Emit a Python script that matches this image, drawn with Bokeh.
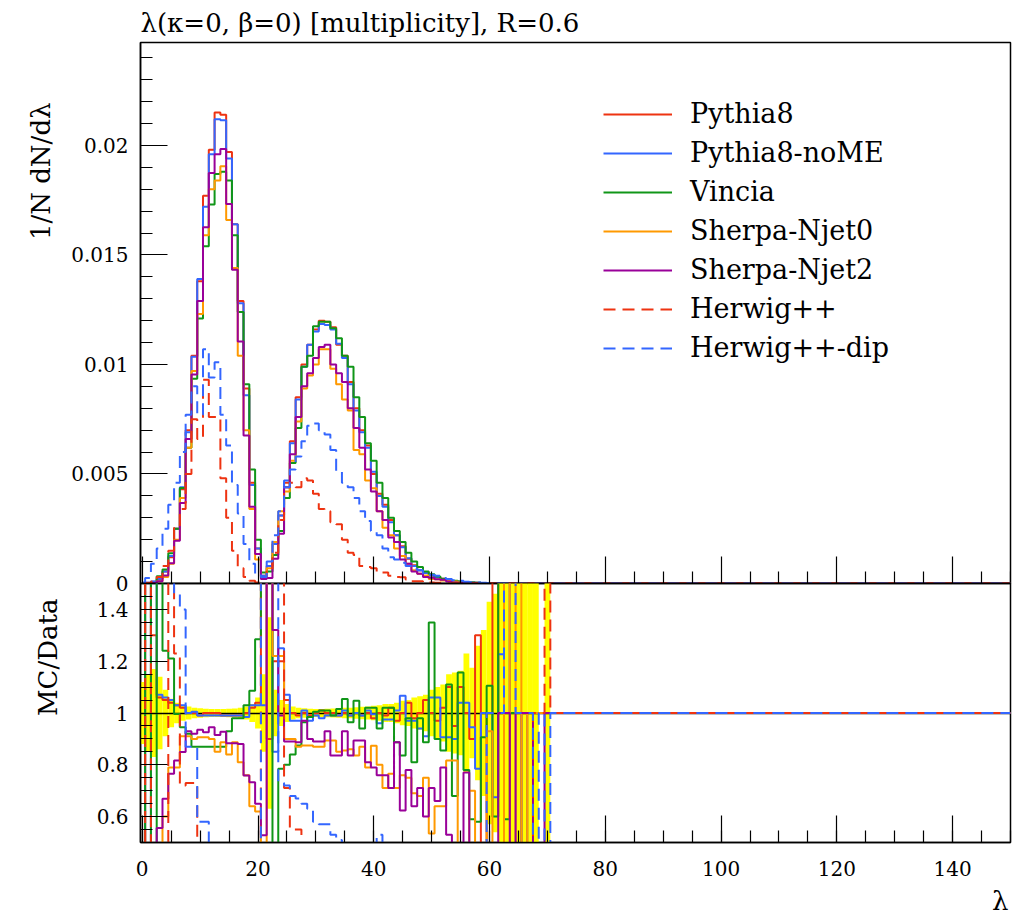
import numpy as np
from bokeh.plotting import figure
from bokeh.layouts import column
from bokeh.models import (Range1d, FixedTicker, SingleIntervalTicker, Legend,
                          LegendItem, Title, LinearAxis)
from bokeh.embed import file_html
from bokeh.resources import INLINE

# ---------------------------------------------------------------------------
# Jet multiplicity lambda(kappa=0, beta=0), R=0.6 -- unit-width bins 0..70
# Main panel values are in units of 1e-3 (1/N dN/dlambda)
# ---------------------------------------------------------------------------
pythia8 = [0.0, 0.03, 0.08, 0.2, 0.55, 1.2, 2.5, 4.3, 7.0, 10.4, 13.8, 17.7, 19.8, 21.5, 21.4,
           19.7, 16.4, 12.9, 8.9, 4.6, 1.6, 0.35, 0.8, 1.8, 3.1, 4.6, 6.5, 8.5, 10.0, 10.9,
           11.6, 12.0, 11.95, 11.7, 10.9, 10.4, 9.2, 8.0, 7.0, 6.3, 5.0, 4.1, 3.6, 2.9, 2.2,
           1.7, 1.13, 0.83, 0.6, 0.5, 0.37, 0.3, 0.22, 0.17, 0.11, 0.08, 0.06, 0.04, 0.03, 0.02,
           0.015, 0.01, 0.008, 0.006, 0.004, 0.003, 0.002, 0.0015, 0.001, 0.0005, 0.0003]
pythia8_nome = [0.0, 0.03, 0.09, 0.22, 0.55, 1.25, 2.5, 4.4, 6.9, 10.35, 13.9, 17.2, 19.6, 21.2, 21.15,
                19.4, 16.4, 12.8, 8.6, 4.5, 1.6, 0.35, 0.8, 1.8, 3.1, 4.7, 6.4, 8.4, 9.9, 10.9,
                11.5, 11.85, 11.8, 11.6, 10.95, 10.3, 9.1, 7.9, 6.9, 6.2, 5.1, 4.0, 3.5, 2.8, 2.2,
                1.65, 1.15, 0.8, 0.6, 0.48, 0.36, 0.28, 0.21, 0.16, 0.11, 0.08, 0.055, 0.04, 0.03, 0.02,
                0.015, 0.01, 0.008, 0.006, 0.004, 0.003, 0.002, 0.0015, 0.001, 0.0005, 0.0003]
vincia = [0.0, 0.0, 0.02, 0.33, 0.64, 1.38, 2.5, 4.36, 6.2, 9.35, 12.1, 15.4, 17.3, 18.7, 18.8,
          18.4, 15.9, 12.4, 9.1, 5.2, 2.0, 0.5, 0.55, 1.3, 2.4, 3.9, 5.5, 7.1, 9.9, 10.4,
          11.75, 11.95, 11.95, 11.65, 11.2, 10.4, 9.9, 8.5, 7.6, 6.4, 5.6, 4.6, 3.9, 3.0, 2.4,
          1.9, 1.4, 1.0, 0.75, 0.55, 0.42, 0.32, 0.22, 0.17, 0.12, 0.09, 0.06, 0.045, 0.03, 0.02,
          0.015, 0.01, 0.008, 0.006, 0.004, 0.003, 0.002, 0.0015, 0.001, 0.0005, 0.0003]
sherpa_njet0 = [0.0, 0.0, 0.02, 0.1, 0.3, 0.9, 2.0, 3.9, 6.2, 9.7, 12.3, 15.9, 18.0, 18.4, 19.05,
                16.6, 14.4, 10.4, 7.0, 3.4, 1.1, 0.25, 0.7, 1.9, 3.3, 4.2, 5.6, 7.4, 8.9, 9.5,
                10.0, 10.7, 10.7, 9.8, 9.1, 8.4, 7.9, 6.1, 5.9, 4.7, 4.35, 3.3, 2.55, 2.2, 1.6,
                1.25, 0.9, 0.6, 0.45, 0.36, 0.2, 0.19, 0.14, 0.14, 0.09, 0.04, 0.03, 0.028, 0.01, 0.008,
                0.01, 0.005, 0.004, 0.003, 0.002, 0.002, 0.001, 0.001, 0.0005, 0.0003, 0.0002]
sherpa_njet2 = [0.0, 0.0, 0.02, 0.1, 0.37, 0.93, 1.95, 3.68, 6.6, 9.54, 12.9, 16.26, 18.74, 19.6, 19.84,
                17.33, 14.32, 11.05, 6.76, 3.5, 1.35, 0.2, 0.25, 1.13, 2.27, 4.4, 5.9, 7.6, 9.0, 9.6,
                10.3, 10.8, 10.9, 10.0, 9.6, 9.2, 8.0, 7.1, 6.2, 5.2, 4.2, 3.3, 2.9, 2.1, 1.9,
                1.1, 0.9, 0.55, 0.45, 0.3, 0.26, 0.19, 0.17, 0.09, 0.04, 0.03, 0.04, 0.01, 0.01, 0.008,
                0.005, 0.004, 0.003, 0.002, 0.002, 0.001, 0.001, 0.0005, 0.0003, 0.0002, 0.0001]
herwig = [0.0, 0.02, 0.08, 0.3, 0.8, 1.5, 2.6, 3.4, 5.0, 7.5, 6.6, 9.3, 7.6, 7.6, 4.8,
          3.0, 1.5, 0.7, 0.3, 0.12, 0.05, 0.3, 0.55, 1.4, 2.9, 4.4, 4.6, 4.4, 4.8, 4.7,
          4.1, 3.4, 3.3, 2.8, 2.7, 2.0, 1.4, 1.3, 0.8, 0.75, 0.7, 0.52, 0.5, 0.35, 0.3,
          0.28, 0.18, 0.1, 0.1, 0.06, 0.04, 0.03, 0.02, 0.01, 0.008, 0.006, 0.004, 0.003, 0.002, 0.001,
          0.001, 0.0008, 0.0005, 0.0004, 0.0003, 0.0002, 0.0002, 0.0001, 0.0001, 0.0001, 0.0001]
herwig_dip = [0.05, 0.25, 0.9, 1.6, 2.5, 3.6, 4.6, 6.0, 7.7, 9.0, 7.7, 10.7, 9.4, 10.1, 7.7,
              6.3, 4.5, 3.2, 1.8, 0.9, 0.4, 0.3, 1.0, 2.2, 3.3, 4.4, 5.2, 5.8, 6.5, 7.2,
              7.3, 7.0, 6.8, 6.1, 5.1, 4.6, 4.4, 3.9, 3.3, 2.85, 2.4, 2.2, 1.6, 1.2, 1.1,
              0.95, 0.8, 0.65, 0.6, 0.45, 0.4, 0.35, 0.25, 0.2, 0.15, 0.12, 0.08, 0.06, 0.04, 0.03,
              0.02, 0.015, 0.01, 0.008, 0.006, 0.004, 0.003, 0.002, 0.001, 0.0008, 0.0005]

# MC/Data ratios per bin (0..70); bins above 70 have ratio 1
ratio_pythia8 = [0.0, 3.0, 1.3, 1.06, 1.05, 1.04, 1.03, 1.02, 1.0, 1.0, 0.99, 1.0, 1.0, 1.0, 0.99,
                 0.99, 0.99, 0.99, 1.0, 1.02, 1.04, 3.0, 0.9, 1.2, 1.2, 1.05, 1.0, 0.99, 1.0, 0.99,
                 1.0, 1.01, 1.0, 1.0, 0.99, 1.0, 0.99, 1.0, 0.99, 1.0, 0.98, 1.0, 0.99, 1.02, 0.97,
                 1.0, 1.04, 0.98, 1.0, 1.05, 1.0, 0.97, 1.02, 1.1, 0.95, 1.1, 1.0, 0.9, 1.3, 0.0,
                 1.0, 3.0, 1.0, 3.0, 1.0, 1.0, 0.0, 1.0, 1.0, 1.0, 1.0]
ratio_pythia8_nome = [3.0, 0.0, 3.0, 1.07, 1.06, 1.05, 1.03, 1.03, 1.0, 1.005, 0.99, 0.99, 0.99, 0.99, 0.99,
                      0.99, 0.99, 0.99, 0.985, 1.03, 1.03, 1.03, 3.0, 0.85, 1.25, 1.07, 0.97, 0.97, 1.01, 0.97,
                      0.99, 0.98, 0.99, 0.99, 0.99, 1.01, 0.99, 1.0, 0.99, 1.01, 0.995, 0.96, 0.975, 0.975, 1.01,
                      1.067, 0.97, 0.97, 0.94, 0.91, 1.06, 1.06, 0.906, 0.906, 0.9, 1.04, 1.04, 0.945, 0.785, 1.0,
                      1.0, 0.675, 1.227, 3.0, 1.0, 1.0, 0.0, 1.0, 1.0, 1.0, 1.0]
ratio_vincia = [0.0, 3.0, 0.0, 3.0, 1.24, 1.21, 0.996, 0.945, 0.92, 0.87, 0.87, 0.87, 0.87, 0.87, 0.87,
                0.93, 0.98, 0.98, 1.03, 1.086, 1.285, 3.0, 3.0, 0.42, 0.785, 0.8, 0.84, 0.875, 0.964, 0.985,
                1.005, 1.01, 1.01, 0.99, 1.015, 1.054, 0.964, 1.047, 0.94, 1.02, 1.02, 0.94, 1.02, 1.02, 0.887,
                0.836, 0.98, 0.81, 0.98, 0.887, 1.349, 0.9, 0.855, 1.11, 0.68, 1.156, 0.78, 0.59, 0.58, 0.906,
                1.105, 0.6, 3.0, 0.59, 1.0, 1.0, 1.0, 1.0, 1.0, 1.0, 1.0]
ratio_sherpa_njet0 = [0.0, 0.0, 0.0, 0.0, 0.6, 0.79, 0.79, 0.91, 0.91, 0.9, 0.906, 0.906, 0.9, 0.85, 0.887,
                      0.84, 0.887, 0.81, 0.76, 0.64, 0.62, 0.3, 3.0, 1.22, 1.22, 0.9, 0.9, 0.87, 0.875, 0.875,
                      0.87, 0.87, 0.894, 0.894, 0.85, 0.855, 0.86, 0.836, 0.87, 0.79, 0.874, 0.8, 0.71, 0.765, 0.71,
                      0.76, 0.75, 0.69, 0.68, 0.75, 0.535, 0.64, 0.64, 0.817, 0.817, 0.3, 0.3, 0.7, 0.3, 0.3,
                      0.93, 0.3, 0.3, 3.0, 0.3, 3.0, 0.3, 1.0, 1.0, 1.0, 1.0]
ratio_sherpa_njet2 = [0.0, 0.0, 0.0, 0.556, 0.669, 0.765, 0.817, 0.849, 0.93, 0.92, 0.935, 0.926, 0.945, 0.915, 0.928,
                      0.883, 0.883, 0.88, 0.759, 0.733, 0.65, 0.528, 3.0, 1.32, 0.99, 0.89, 0.89, 0.887, 0.97, 0.9,
                      0.89, 0.89, 0.93, 0.836, 0.836, 0.93, 0.836, 0.894, 0.894, 0.81, 0.79, 0.76, 0.76, 0.71, 0.887,
                      0.624, 0.78, 0.64, 0.71, 0.6, 0.71, 0.66, 0.79, 0.53, 0.3, 0.3, 0.77, 0.3, 0.3, 0.3,
                      0.3, 0.3, 1.0, 1.0, 0.3, 1.0, 1.0, 1.0, 0.3, 0.3, 1.0]
ratio_herwig = [0.0, 3.0, 0.0, 0.0, 0.0, 3.0, 1.23, 0.72, 0.73, 0.73, 0.3, 0.3, 0.3, 0.3, 0.3,
                0.3, 0.3, 0.3, 0.3, 0.3, 0.3, 3.0, 3.0, 3.0, 3.0, 0.71, 0.55, 0.55, 0.3, 0.3,
                0.3, 0.3, 0.3, 0.3, 0.3, 0.3, 0.3, 0.3, 0.3, 0.3, 0.3, 0.3, 0.3, 0.3, 0.3,
                0.3, 0.3, 0.3, 0.3, 0.3, 0.3, 0.3, 0.3, 0.3, 0.3, 0.3, 0.3, 0.3, 0.3, 0.3,
                0.3, 0.3, 0.3, 0.3, 0.3, 0.3, 0.3, 0.3, 1.0, 1.0, 3.0]
ratio_herwig_dip = [3.0, 3.0, 3.0, 3.0, 3.0, 3.0, 1.46, 1.4, 0.87, 0.87, 0.58, 0.58, 0.3, 0.3, 0.3,
                    0.3, 0.3, 0.3, 0.3, 0.3, 0.3, 3.0, 3.0, 3.0, 0.73, 0.72, 0.68, 0.67, 0.65, 0.63,
                    0.58, 0.57, 0.57, 0.53, 0.51, 0.45, 0.45, 0.45, 0.45, 0.45, 0.45, 0.53, 0.3, 0.3, 0.3,
                    0.3, 0.3, 0.3, 0.3, 0.3, 0.3, 0.3, 0.3, 0.3, 0.3, 0.3, 0.3, 0.3, 0.3, 0.3,
                    1.0, 1.0, 1.0, 3.0, 3.0, 1.0, 1.0, 1.0, 0.3, 1.0, 0.3]
# relative data uncertainty (half-width of the band around 1)
data_rel_err = [0.12, 0.15, 0.17, 0.14, 0.09, 0.055, 0.04, 0.03, 0.025, 0.02, 0.018, 0.016, 0.015, 0.015, 0.015,
                0.016, 0.017, 0.02, 0.025, 0.035, 0.06, 0.15, 0.37, 0.09, 0.05, 0.035, 0.025, 0.02, 0.018, 0.016,
                0.015, 0.015, 0.016, 0.017, 0.018, 0.02, 0.02, 0.022, 0.024, 0.025, 0.028, 0.03, 0.035, 0.035, 0.04,
                0.047, 0.05, 0.06, 0.065, 0.07, 0.09, 0.1, 0.11, 0.15, 0.156, 0.163, 0.23, 0.175, 0.26, 0.32,
                0.43, 0.46, 1.0, 1.0, 1.0, 1.0, 1.0, 1.0, 1.0, 0.0, 1.0]

labels = ["Pythia8", "Pythia8-noME", "Vincia", "Sherpa-Njet0", "Sherpa-Njet2", "Herwig++", "Herwig++-dip"]
colors = ["#ee3311", "#3366ff", "#109618", "#ff9900", "#990099", "#ee3311", "#3366ff"]
dashes = ["solid", "solid", "solid", "solid", "solid", "12 7", "12 7"]
main_series = [pythia8, pythia8_nome, vincia, sherpa_njet0, sherpa_njet2, herwig, herwig_dip]
ratio_series = [ratio_pythia8, ratio_pythia8_nome, ratio_vincia, ratio_sherpa_njet0,
                ratio_sherpa_njet2, ratio_herwig, ratio_herwig_dip]

FONT = "DejaVu Serif"
N_ALL = 151
centers = np.arange(N_ALL)
n_meas = len(pythia8)
major_x = list(range(0, 150, 20))
minor_x = [v for v in range(5, 151, 5) if v % 20]


def pad(vals, fill):
    arr = np.full(N_ALL, fill, dtype=float)
    arr[:len(vals)] = vals
    return arr


def style_axis(ax):
    ax.axis_line_color = "black"
    ax.axis_line_width = 1.5
    ax.major_tick_line_color = "black"
    ax.minor_tick_line_color = "black"
    ax.major_tick_line_width = 1.2
    ax.minor_tick_line_width = 1.2
    ax.major_tick_in = 27
    ax.major_tick_out = 0
    ax.minor_tick_in = 12
    ax.minor_tick_out = 0
    ax.major_label_text_font = FONT
    ax.major_label_text_font_size = "20px"
    ax.major_label_text_color = "black"
    ax.major_label_standoff = 12


def style_frame(fig):
    fig.xgrid.visible = False
    fig.ygrid.visible = False
    fig.outline_line_color = "black"
    fig.outline_line_width = 1.5


x_range = Range1d(-0.3, 150)

# ---------------- main panel ----------------
p = figure(width=1012, height=597, x_range=x_range, y_range=Range1d(0, 0.0247),
           x_axis_location=None,
           output_backend="svg", toolbar_location=None,
           min_border_left=138, min_border_right=2, min_border_top=35, min_border_bottom=14)
p.title.text = "\u03bb(\u03ba=0, \u03b2=0) [multiplicity], R=0.6"
p.title.align = "left"
p.title.text_font = FONT
p.title.text_font_size = "26px"
p.title.text_font_style = "normal"
p.title.text_color = "black"

# bottom ticks of the main panel (no labels): long ones at multiples of 20, short ones every 5
for ticks, length in ((major_x, 27), (minor_x, 12)):
    ax = LinearAxis(ticker=FixedTicker(ticks=[], minor_ticks=ticks), fixed_location=0)
    style_axis(ax)
    ax.minor_tick_in = length
    p.add_layout(ax, "below")

p.yaxis.ticker = FixedTicker(ticks=[0, 0.005, 0.01, 0.015, 0.02],
                             minor_ticks=[i * 0.001 for i in range(25)])
p.yaxis.major_label_overrides = {0: "0", 0.005: "0.005", 0.01: "0.01", 0.015: "0.015", 0.02: "0.02"}
style_axis(p.yaxis[0])
style_frame(p)

p.add_layout(Title(text="1/N dN/d\u03bb", align="right", offset=60, standoff=25, text_font=FONT,
                   text_font_size="26px", text_font_style="normal", text_color="black"), "left")

items = []
for vals, lab, col, dash in zip(main_series, labels, colors, dashes):
    r = p.step(x=centers, y=pad(np.array(vals) * 1e-3, 0.0), mode="center",
               line_color=col, line_width=2, line_dash=dash)
    items.append(LegendItem(label=lab, renderers=[r]))

legend = Legend(items=items, location=(463, 220), glyph_width=69, glyph_height=20,
                spacing=8, label_standoff=18, padding=0, margin=0,
                border_line_color=None, background_fill_alpha=0,
                label_text_font=FONT, label_text_font_size="27px", label_text_color="black")
p.add_layout(legend)

# ---------------- ratio panel ----------------
q = figure(width=1012, height=337, x_range=x_range, y_range=Range1d(0.5, 1.5),
           output_backend="svg", toolbar_location=None, margin=(-14, 0, 0, 0),
           min_border_left=138, min_border_right=2, min_border_top=0, min_border_bottom=75)
q.background_fill_alpha = 0
q.border_fill_alpha = 0
q.xaxis.ticker = SingleIntervalTicker(interval=20, num_minor_ticks=4)
q.yaxis.ticker = FixedTicker(ticks=[0.6, 0.8, 1.0, 1.2, 1.4],
                             minor_ticks=[0.5 + 0.05 * i for i in range(21)])
q.yaxis.major_label_overrides = {0.6: "0.6", 0.8: "0.8", 1: "1", 1.2: "1.2", 1.4: "1.4"}
for ax in q.axis:
    style_axis(ax)
q.xaxis.major_label_standoff = 18
style_frame(q)

q.add_layout(Title(text="MC/Data", align="right", offset=15, standoff=61, text_font=FONT,
                   text_font_size="26px", text_font_style="normal", text_color="black"), "left")
q.add_layout(Title(text="\u03bb", align="right", offset=2, standoff=10, text_font=FONT,
                   text_font_size="26px", text_font_style="normal", text_color="black"), "below")

err = np.array(data_rel_err)
edges_lo = centers[:n_meas] - 0.5
edges_hi = centers[:n_meas] + 0.5
has_err = err > 0
q.quad(left=edges_lo[has_err], right=edges_hi[has_err],
       bottom=1 - err[has_err], top=1 + err[has_err],
       fill_color="#ffff00", line_color=None)
q.hspan(y=[1.0], line_color="black", line_width=1.5)

for vals, col, dash in zip(ratio_series, colors, dashes):
    q.step(x=centers, y=pad(vals, 1.0), mode="center",
           line_color=col, line_width=2, line_dash=dash)

layout = column(p, q, spacing=0)
open("out.html", "w").write(file_html(layout, INLINE))
